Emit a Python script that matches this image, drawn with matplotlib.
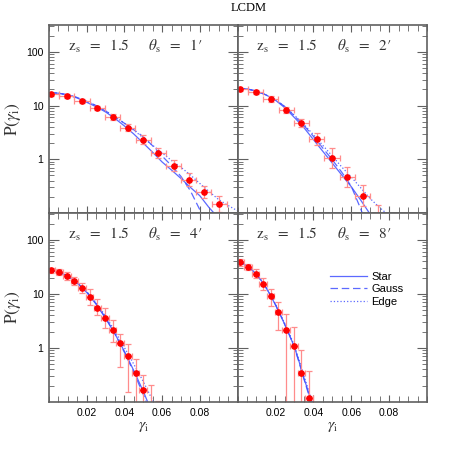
import numpy as np
import matplotlib
matplotlib.use('Agg')
from matplotlib import pyplot as plt
from matplotlib.ticker import FixedLocator, MultipleLocator, LogLocator, NullFormatter

plt.rcParams['mathtext.fontset'] = 'stix'
plt.rcParams['font.family'] = ['Liberation Sans', 'DejaVu Sans']

# measured points, bins of 0.008 (1', 2') and 0.004 (4', 8')
x_wide = [0.0013, 0.0095, 0.0175, 0.0257, 0.0337, 0.0418, 0.0499, 0.058, 0.0661, 0.0741, 0.0822, 0.0903]
x_narrow = [0.0013, 0.0055, 0.0095, 0.0135, 0.0175, 0.0216, 0.0257, 0.0297, 0.0337, 0.0378,
            0.0418, 0.0459, 0.0499, 0.054, 0.058]

p1_y = [16.2, 14.9, 12.2, 9.0, 6.1, 3.88, 2.32, 1.33, 0.76, 0.417, 0.246, 0.147]
p1_hi = [17.3, 16.2, 13.3, 10.0, 6.9, 4.57, 2.81, 1.65, 0.95, 0.556, 0.322, 0.207]
p1_lo = [15.2, 13.7, 11.2, 8.1, 5.37, 3.30, 1.91, 1.07, 0.61, 0.313, 0.188, 0.104]

p2_y = [20.1, 17.9, 13.3, 8.3, 4.68, 2.39, 1.06, 0.46, 0.21, 0.08]
p2_hi = [21.4, 19.5, 14.8, 9.4, 5.55, 3.06, 1.61, 0.71, 0.33, 0.14]
p2_lo = [18.9, 16.4, 11.9, 7.3, 3.94, 1.86, 0.70, 0.30, 0.134, 0.05]

p4_y = [27.5, 25.6, 21.3, 17.4, 12.7, 8.83, 5.62, 3.66, 2.19, 1.24, 0.72, 0.344, 0.165, 0.08, 0.07]
p4_hi = [30.9, 29.6, 25.6, 20.6, 16.2, 12.2, 7.94, 5.4, 3.37, 1.85, 1.2, 0.632, 0.318, 0.207, 0.104]
p4_lo = [24.5, 22.2, 18.2, 14.5, 10.3, 6.21, 4.17, 2.36, 1.29, 0.454, 0.152, 0.05, 0.05, 0.05, 0.05]

p8_y = [38.3, 32.2, 23.9, 15.6, 9.3, 4.6, 2.19, 1.09, 0.347, 0.12]
p8_hi = [44.1, 36.0, 28.7, 19.5, 12.6, 7.06, 4.35, 2.42, 0.9, 0.383]
p8_lo = [33.1, 27.9, 20.1, 11.7, 5.96, 2.13, 0.05, 0.05, 0.05, 0.05]

# model curves
c1_x = [0, 0.005, 0.01, 0.015, 0.02, 0.025, 0.03, 0.035, 0.04, 0.045, 0.05, 0.055, 0.06, 0.065,
        0.07, 0.075, 0.08, 0.085, 0.09, 0.095, 0.1]
c1_star = [17.4, 17.0, 15.8, 13.8, 11.5, 9.5, 7.6, 5.75, 4.17, 2.95, 2.0, 1.35, 0.89, 0.63,
           0.44, 0.30, 0.21, 0.125, 0.08, 0.05, 0.03]
c1_gauss = [17.4, 17.0, 15.8, 14.1, 12.0, 10.0, 7.94, 6.17, 4.68, 3.55, 2.63, 1.78, 1.15, 0.76,
            0.48, 0.26, 0.115, 0.05, 0.02, 0.01, 0.005]
c1_edge = [17.4, 17.0, 15.8, 14.1, 12.0, 10.0, 7.94, 6.17, 4.68, 3.47, 2.51, 1.82, 1.32, 0.95,
           0.71, 0.51, 0.355, 0.25, 0.178, 0.138, 0.11]

c2_x = [0, 0.005, 0.01, 0.015, 0.02, 0.025, 0.03, 0.035, 0.04, 0.045, 0.05, 0.055, 0.06, 0.065,
        0.07, 0.075, 0.08]
c2_star = [20.9, 20.4, 18.6, 15.8, 12.6, 9.1, 6.0, 3.9, 2.34, 1.41, 0.85, 0.51, 0.31, 0.174,
           0.095, 0.05, 0.025]
c2_gauss = [20.9, 20.4, 18.6, 15.8, 12.9, 9.55, 6.46, 4.27, 2.69, 1.62, 0.98, 0.575, 0.316, 0.12,
            0.04, 0.015, 0.005]
c2_edge = [20.9, 20.4, 18.6, 15.8, 12.9, 9.55, 6.6, 4.47, 2.88, 1.82, 1.15, 0.72, 0.47, 0.295,
           0.186, 0.126, 0.09]

c4_x = [0, 0.005, 0.01, 0.015, 0.02, 0.025, 0.03, 0.035, 0.04, 0.045, 0.05, 0.055, 0.06]
c4_star = [27.5, 25.7, 21.4, 15.8, 10.7, 6.46, 3.55, 1.82, 0.87, 0.38, 0.158, 0.06, 0.02]
c4_gauss = [27.5, 25.7, 21.4, 16.2, 11.0, 6.6, 3.63, 1.82, 0.83, 0.355, 0.138, 0.05, 0.015]
c4_edge = [27.5, 25.7, 21.9, 16.6, 11.2, 6.9, 3.9, 2.04, 1.02, 0.50, 0.24, 0.107, 0.045]

c8_x = [0, 0.0025, 0.005, 0.0075, 0.01, 0.0125, 0.015, 0.0175, 0.02, 0.0225, 0.025, 0.0275,
        0.03, 0.0325, 0.035, 0.0375, 0.04, 0.0425]
c8_star = [39.8, 37.6, 33.1, 28.2, 22.9, 17.8, 13.2, 9.3, 6.3, 4.17, 2.69, 1.7,
           1.05, 0.56, 0.28, 0.15, 0.075, 0.035]
c8_gauss = [39.8, 37.6, 33.1, 28.2, 22.9, 17.8, 13.2, 9.4, 6.4, 4.2, 2.7, 1.7,
            1.03, 0.54, 0.27, 0.14, 0.065, 0.03]
c8_edge = [39.8, 37.6, 33.1, 28.4, 23.2, 18.0, 13.5, 9.5, 6.5, 4.3, 2.8, 1.8,
           1.1, 0.6, 0.31, 0.165, 0.085, 0.04]

thetas = ['1', '2', '4', '8']
z_s = '1.5'

panels = [
    (x_wide, 0.004, p1_y, p1_lo, p1_hi, c1_x, c1_star, c1_gauss, c1_edge),
    (x_wide[:len(p2_y)], 0.004, p2_y, p2_lo, p2_hi, c2_x, c2_star, c2_gauss, c2_edge),
    (x_narrow, 0.002, p4_y, p4_lo, p4_hi, c4_x, c4_star, c4_gauss, c4_edge),
    (x_narrow[:len(p8_y)], 0.002, p8_y, p8_lo, p8_hi, c8_x, c8_star, c8_gauss, c8_edge),
]

line_col = '#3f4fff'
frame_col = '#606060'
text_col = '#333333'

fig = plt.figure(figsize=(4.5, 4.5), dpi=100)
W, H = 450.0, 450.0
x0, xm, x1 = 49, 237.5, 427
y0, ym, y1 = 25, 213, 402
boxes = [
    (x0, y0, xm, ym), (xm, y0, x1, ym),
    (x0, ym, xm, y1), (xm, ym, x1, y1),
]

for k, (bx0, by0, bx1, by1) in enumerate(boxes):
    ax = fig.add_axes([bx0 / W, 1 - by1 / H, (bx1 - bx0) / W, (by1 - by0) / H])
    xs, xe, ys, ylo, yhi, cx, cs, cg, ce = panels[k]
    ys = np.array(ys)
    yerr = [ys - np.array(ylo), np.array(yhi) - ys]

    ax.plot(cx, cs, '-', color=line_col, lw=0.9, alpha=0.85, label='Star')
    ax.plot(cx, cg, '--', color=line_col, lw=0.9, alpha=0.85, dashes=(6, 3), label='Gauss')
    ax.plot(cx, ce, ':', color=line_col, lw=0.9, alpha=0.85, label='Edge')
    ax.errorbar(xs, ys, xerr=xe, yerr=yerr, fmt='none', ecolor='#ff8c8c',
                elinewidth=0.9, capsize=2, capthick=0.9)
    ax.plot(xs, ys, 'o', color='red', ms=3.8, mec='red')

    ax.set_yscale('log')
    ax.set_xlim(0, 0.1)
    ax.set_ylim(0.1, 316)

    ax.xaxis.set_major_locator(FixedLocator([0.02, 0.04, 0.06, 0.08]))
    ax.xaxis.set_minor_locator(MultipleLocator(0.005))
    ax.yaxis.set_major_locator(FixedLocator([1, 10, 100]))
    ax.yaxis.set_minor_locator(LogLocator(base=10, subs=np.arange(2, 10)))
    ax.yaxis.set_minor_formatter(NullFormatter())
    ax.set_yticklabels(['1', '10', '100'])
    ax.set_xticklabels(['0.02', '0.04', '0.06', '0.08'])

    ax.tick_params(which='both', direction='in', top=True, right=True,
                   color=frame_col, labelsize=7.5, pad=4)
    ax.tick_params(axis='x', which='major', length=5)
    ax.tick_params(axis='x', which='minor', length=4)
    ax.tick_params(axis='y', which='major', length=7)
    ax.tick_params(axis='y', which='minor', length=3.5)
    for sp in ax.spines.values():
        sp.set_color(frame_col)
        sp.set_linewidth(1.2)

    if k in (1, 3):
        ax.tick_params(labelleft=False)
    else:
        ax.set_ylabel(r'$\mathrm{P}(\gamma_{\mathrm{i}})$', fontsize=12.5, labelpad=2,
                      color=text_col)
    if k in (0, 1):
        ax.tick_params(labelbottom=False)
    else:
        ax.set_xlabel(r'$\gamma_{\mathrm{i}}$', fontsize=11.5, labelpad=1, color=text_col)

    ax.text(0.10, 0.885, r'$\mathrm{z_s}\ \ =\ \ %s$' % z_s, transform=ax.transAxes,
            fontsize=11, va='center', ha='left', color=text_col)
    ax.text(0.525, 0.885, r'$\theta_\mathrm{s}\ \ =\ \ %s$' % thetas[k] + '\u2032',
            transform=ax.transAxes, fontsize=11, va='center', ha='left', color=text_col,
            family='STIXGeneral')

    if k == 3:
        ax.legend(loc='upper left', bbox_to_anchor=(0.49, 0.69), frameon=False,
                  fontsize=8, handlelength=3.3, handletextpad=0.4, labelspacing=0.25,
                  borderpad=0, borderaxespad=0)

fig.text(248.5 / W, 1 - 8 / H, 'LCDM', ha='center', va='center', fontsize=9,
         family='Liberation Serif')

fig.savefig('out.png', dpi=100)
